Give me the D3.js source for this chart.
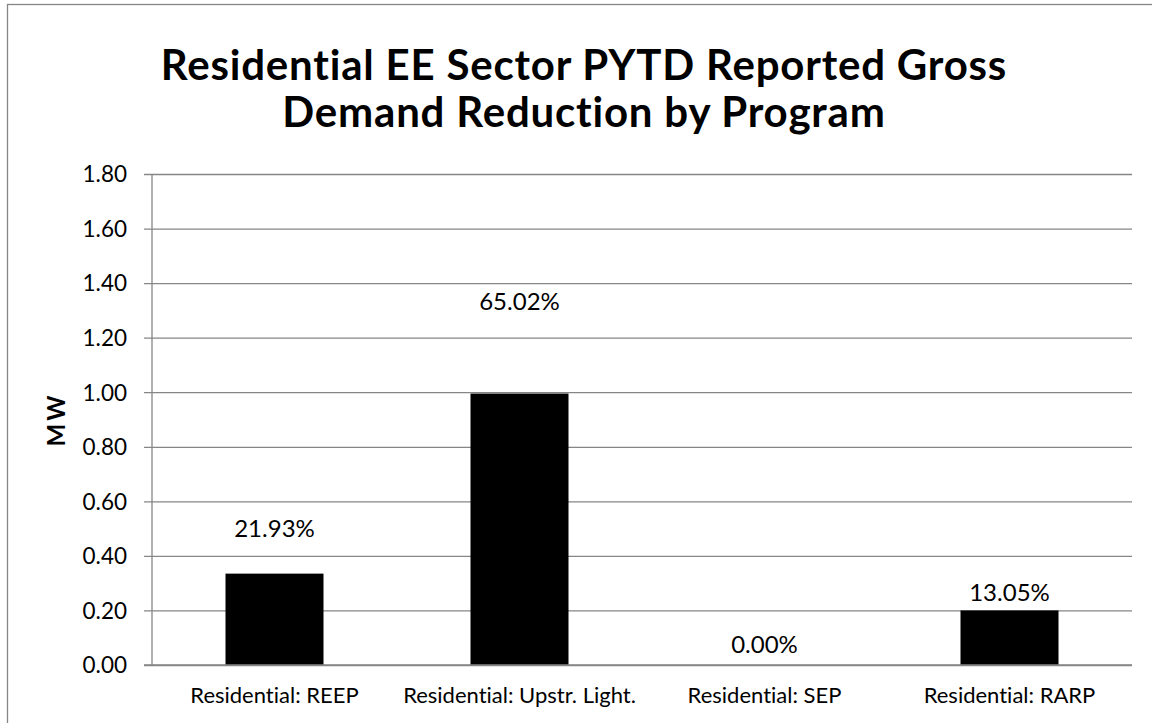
<!DOCTYPE html>
<html>
<head>
<meta charset="utf-8">
<script src="https://cdn.jsdelivr.net/npm/d3@7"></script>
<style>
  html, body { margin: 0; padding: 0; background: #fff; }
  svg { display: block; }
  text { font-family: Lato, "Open Sans", sans-serif; fill: #000; font-variant-ligatures: none; }
</style>
</head>
<body>
<svg id="chart" width="1152" height="723"></svg>
<script>
// Programs and their PYTD reported gross demand reduction (MW)
const programs = ["Residential: REEP", "Residential: Upstr. Light.", "Residential: SEP", "Residential: RARP"];
const demandMW = [0.335, 0.995, 0.0, 0.200];
// Share of the sector total, as labelled above each bar
const shareLabels = ["21.93%", "65.02%", "0.00%", "13.05%"];
// Value axis ticks
const yTicks = [0, 0.2, 0.4, 0.6, 0.8, 1.0, 1.2, 1.4, 1.6, 1.8];
const titleLines = ["Residential EE Sector PYTD Reported Gross", "Demand Reduction by Program"];

// Layout
const W = 1152, H = 723;
const plot = { left: 152, right: 1132, top: 174, bottom: 665 };
const labelLift = [45, 92, 20, 18]; // px from bar top to label centre
const gridColor = "#868686";

const svg = d3.select("#chart");

// Chart area frame
svg.append("rect")
  .attr("x", 7.5).attr("y", 4.5)
  .attr("width", 1200).attr("height", 800)
  .attr("fill", "#fff")
  .attr("stroke", gridColor).attr("stroke-width", 1.3);

const x = d3.scaleBand().domain(programs).range([plot.left, plot.right]).paddingInner(0).paddingOuter(0);
const y = d3.scaleLinear().domain([0, 1.8]).range([plot.bottom, plot.top]);

// Horizontal gridlines with outside tick marks
const yAxis = d3.axisLeft(y)
  .tickValues(yTicks)
  .tickFormat(d3.format(".2f"))
  .tickSize(-(plot.right - plot.left))
  .tickPadding(0);

const gy = svg.append("g").attr("transform", `translate(${plot.left},0)`).call(yAxis);
gy.select(".domain").remove();
gy.selectAll(".tick line")
  .attr("x1", -8)
  .attr("stroke", gridColor).attr("stroke-width", 1.3);
gy.selectAll(".tick text")
  .attr("x", -25)
  .attr("dy", "0.35em")
  .style("font-size", "22.5px")
  .attr("fill", "#000");

// Vertical value axis line
svg.append("line")
  .attr("x1", plot.left).attr("x2", plot.left)
  .attr("y1", plot.top).attr("y2", plot.bottom)
  .attr("stroke", gridColor).attr("stroke-width", 1.3);

// Bars
const barW = x.bandwidth() * 0.4;
svg.append("g").selectAll("rect")
  .data(programs)
  .join("rect")
  .attr("x", d => x(d) + (x.bandwidth() - barW) / 2)
  .attr("y", (d, i) => y(demandMW[i]))
  .attr("width", barW)
  .attr("height", (d, i) => y(0) - y(demandMW[i]))
  .attr("fill", "#000");

// Share labels
svg.append("g").selectAll("text")
  .data(programs)
  .join("text")
  .attr("x", d => x(d) + x.bandwidth() / 2)
  .attr("y", (d, i) => y(demandMW[i]) - labelLift[i])
  .attr("dy", "0.35em")
  .attr("text-anchor", "middle")
  .style("font-size", "24px")
  .text((d, i) => shareLabels[i]);

// Category axis
const xAxis = d3.axisBottom(x).tickSize(0).tickPadding(0);
const gx = svg.append("g").attr("transform", `translate(0,${plot.bottom})`).call(xAxis);
gx.select(".domain").remove();
gx.selectAll(".tick text")
  .attr("y", 38)
  .attr("dy", 0)
  .style("font-size", "22px")
  .attr("fill", "#000");

// Baseline (category axis line)
svg.append("line")
  .attr("x1", plot.left - 8).attr("x2", plot.right)
  .attr("y1", plot.bottom).attr("y2", plot.bottom)
  .attr("stroke", gridColor).attr("stroke-width", 1.3);

// Value axis title
svg.append("text")
  .attr("transform", `translate(65,${(plot.top + plot.bottom) / 2}) rotate(-90)`)
  .attr("text-anchor", "middle")
  .style("font-size", "24px")
  .style("font-weight", "bold")
  .style("letter-spacing", "3px")
  .text("MW");

// Chart title
svg.append("g").selectAll("text")
  .data(titleLines)
  .join("text")
  .attr("x", 584)
  .attr("y", (d, i) => 80 + i * 47)
  .attr("text-anchor", "middle")
  .style("font-size", "42px")
  .style("font-weight", "bold")
  .style("letter-spacing", "0.8px")
  .text(d => d);
</script>
</body>
</html>
